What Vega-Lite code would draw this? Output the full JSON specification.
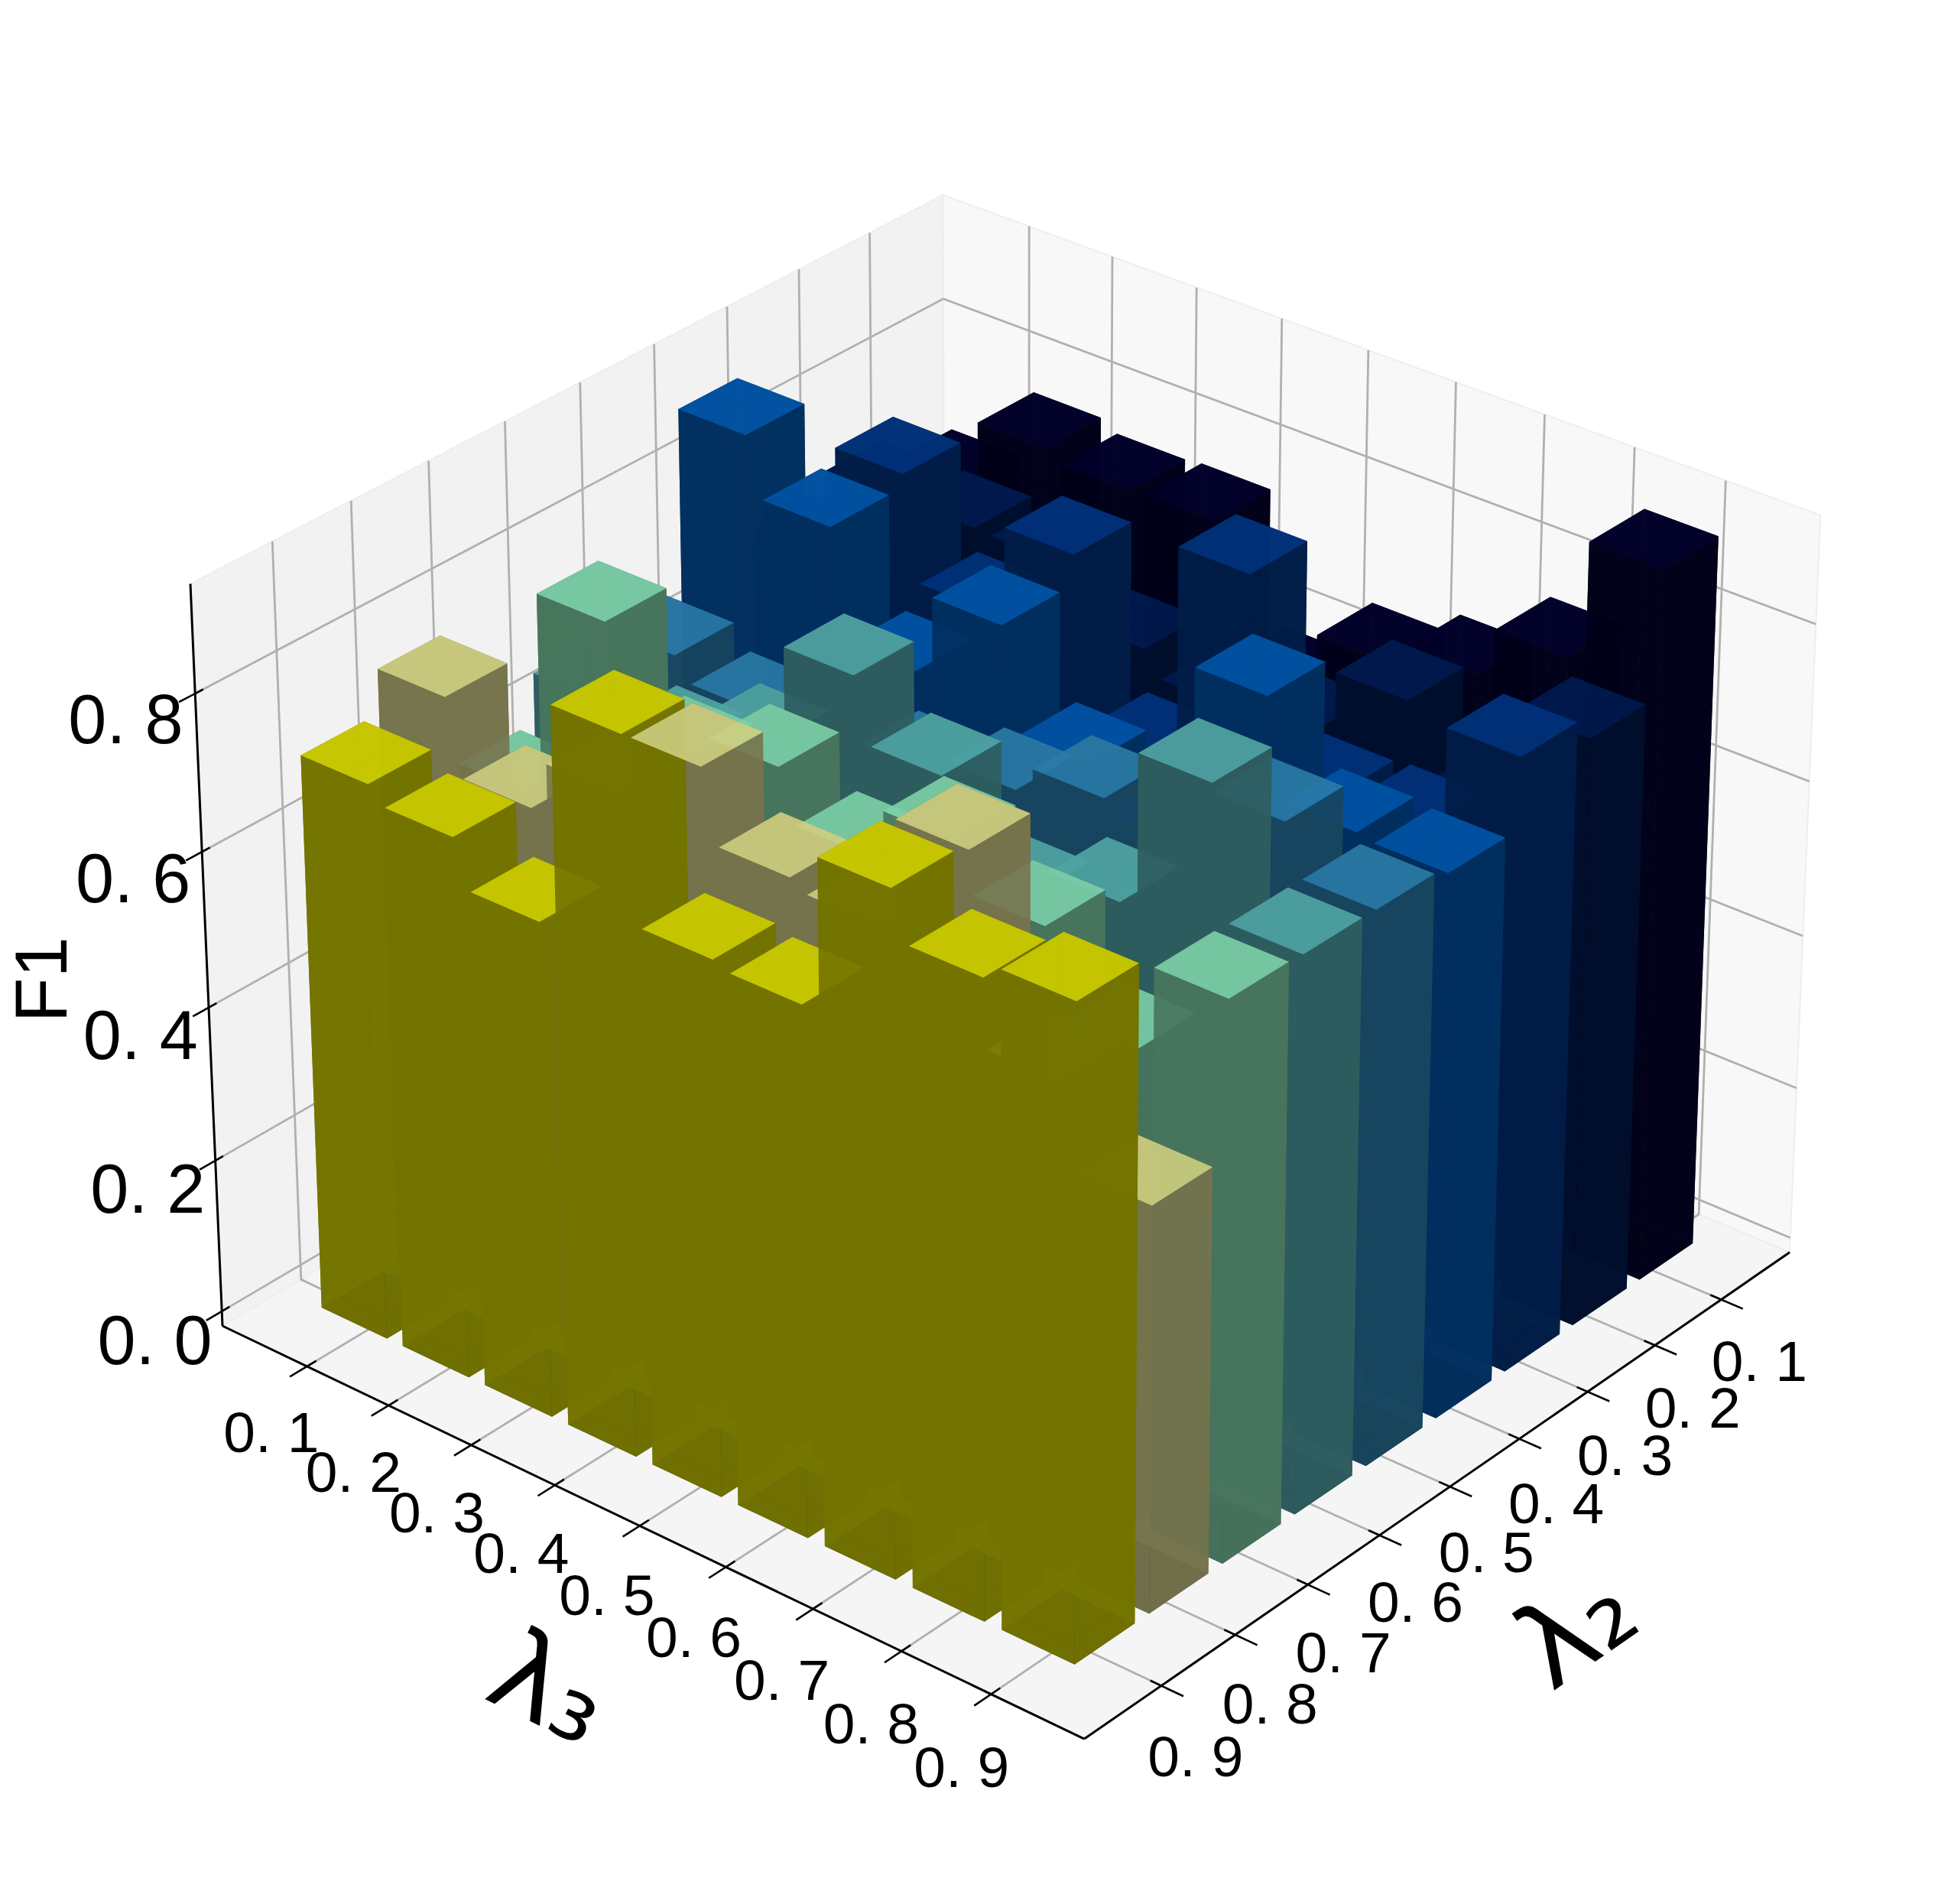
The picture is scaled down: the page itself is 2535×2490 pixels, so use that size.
{"$schema":"https://vega.github.io/schema/vega-lite/v6.json","width":2535,"height":2490,"padding":0,"autosize":{"type":"none"},"background":"white","config":{"view":{"stroke":null}},"projection":{"type":"identity","scale":1,"translate":[0,0]},"resolve":{"scale":{"fill":"independent"}},
"layer":[
{"data":{"values":[{"pane":"left"},{"pane":"right"},{"pane":"floor"}]},
"transform":[
{"calculate":"datum.pane==='left'?[[1,0,0],[0,0,0],[0,0,1],[1,0,1]]:datum.pane==='right'?[[0,0,0],[0,1,0],[0,1,1],[0,0,1]]:[[0,0,0],[1,0,0],[1,1,0],[0,1,0]]","as":"vs"},
{"calculate":"[[(1237-966.6*datum.vs[0][0]+960.4*datum.vs[0][1]-48*datum.vs[0][2])/(1-0.07087*datum.vs[0][0]-0.06134*datum.vs[0][1]-0.036*datum.vs[0][2]),(1175+436.1*datum.vs[0][0]+362.3*datum.vs[0][1]-929.2*datum.vs[0][2])/(1-0.07087*datum.vs[0][0]-0.06134*datum.vs[0][1]-0.036*datum.vs[0][2])],[(1237-966.6*datum.vs[1][0]+960.4*datum.vs[1][1]-48*datum.vs[1][2])/(1-0.07087*datum.vs[1][0]-0.06134*datum.vs[1][1]-0.036*datum.vs[1][2]),(1175+436.1*datum.vs[1][0]+362.3*datum.vs[1][1]-929.2*datum.vs[1][2])/(1-0.07087*datum.vs[1][0]-0.06134*datum.vs[1][1]-0.036*datum.vs[1][2])],[(1237-966.6*datum.vs[2][0]+960.4*datum.vs[2][1]-48*datum.vs[2][2])/(1-0.07087*datum.vs[2][0]-0.06134*datum.vs[2][1]-0.036*datum.vs[2][2]),(1175+436.1*datum.vs[2][0]+362.3*datum.vs[2][1]-929.2*datum.vs[2][2])/(1-0.07087*datum.vs[2][0]-0.06134*datum.vs[2][1]-0.036*datum.vs[2][2])],[(1237-966.6*datum.vs[3][0]+960.4*datum.vs[3][1]-48*datum.vs[3][2])/(1-0.07087*datum.vs[3][0]-0.06134*datum.vs[3][1]-0.036*datum.vs[3][2]),(1175+436.1*datum.vs[3][0]+362.3*datum.vs[3][1]-929.2*datum.vs[3][2])/(1-0.07087*datum.vs[3][0]-0.06134*datum.vs[3][1]-0.036*datum.vs[3][2])]]","as":"ring"},
{"calculate":"{type:'Polygon',coordinates:[[datum.ring[0],datum.ring[1],datum.ring[2],datum.ring[3],datum.ring[0]]]}","as":"geom"}],
"mark":{"type":"geoshape","stroke":"#eeeeee","strokeWidth":2},
"encoding":{"shape":{"field":"geom","type":"geojson"},"fill":{"field":"pane","type":"nominal","legend":null,"scale":{"domain":["left","right","floor"],"range":["#f2f2f2","#f8f8f8","#f5f5f5"]}}}},
{"data":{"name":"guides","values":[{"kind":"z","v":0.0},{"kind":"z","v":0.2},{"kind":"z","v":0.4},{"kind":"z","v":0.6},{"kind":"z","v":0.8},{"kind":"l3","v":0.1},{"kind":"l3","v":0.2},{"kind":"l3","v":0.3},{"kind":"l3","v":0.4},{"kind":"l3","v":0.5},{"kind":"l3","v":0.6},{"kind":"l3","v":0.7},{"kind":"l3","v":0.8},{"kind":"l3","v":0.9},{"kind":"l2","v":0.1},{"kind":"l2","v":0.2},{"kind":"l2","v":0.3},{"kind":"l2","v":0.4},{"kind":"l2","v":0.5},{"kind":"l2","v":0.6},{"kind":"l2","v":0.7},{"kind":"l2","v":0.8},{"kind":"l2","v":0.9}]},
"transform":[
{"calculate":"datum.kind==='z'?0.0205+1.0456*datum.v:0.9925*datum.v+0.005","as":"m"},
{"calculate":"datum.kind==='z'?[1,0,datum.m]:datum.kind==='l3'?[1,datum.m,0]:[datum.m,1,0]","as":"v1"},
{"calculate":"datum.kind==='z'?[0,0,datum.m]:datum.kind==='l3'?[0,datum.m,0]:[datum.m,0,0]","as":"v2"},
{"calculate":"datum.kind==='z'?[0,1,datum.m]:datum.kind==='l3'?[0,datum.m,1]:[datum.m,0,1]","as":"v3"},
{"calculate":"[(1237-966.6*datum.v1[0]+960.4*datum.v1[1]-48*datum.v1[2])/(1-0.07087*datum.v1[0]-0.06134*datum.v1[1]-0.036*datum.v1[2]),(1175+436.1*datum.v1[0]+362.3*datum.v1[1]-929.2*datum.v1[2])/(1-0.07087*datum.v1[0]-0.06134*datum.v1[1]-0.036*datum.v1[2])]","as":"p1"},
{"calculate":"[(1237-966.6*datum.v2[0]+960.4*datum.v2[1]-48*datum.v2[2])/(1-0.07087*datum.v2[0]-0.06134*datum.v2[1]-0.036*datum.v2[2]),(1175+436.1*datum.v2[0]+362.3*datum.v2[1]-929.2*datum.v2[2])/(1-0.07087*datum.v2[0]-0.06134*datum.v2[1]-0.036*datum.v2[2])]","as":"p2"},
{"calculate":"[(1237-966.6*datum.v3[0]+960.4*datum.v3[1]-48*datum.v3[2])/(1-0.07087*datum.v3[0]-0.06134*datum.v3[1]-0.036*datum.v3[2]),(1175+436.1*datum.v3[0]+362.3*datum.v3[1]-929.2*datum.v3[2])/(1-0.07087*datum.v3[0]-0.06134*datum.v3[1]-0.036*datum.v3[2])]","as":"p3"},
{"calculate":"{type:'LineString',coordinates:[datum.p1,datum.p2,datum.p3]}","as":"geom"}],
"mark":{"type":"geoshape","filled":false,"stroke":"#b0b0b0","strokeWidth":2.8,"fill":null},
"encoding":{"shape":{"field":"geom","type":"geojson"}}},
{"data":{"values":[{"edge":"zaxis"},{"edge":"l3axis"},{"edge":"l2axis"}]},
"transform":[
{"calculate":"datum.edge==='zaxis'?[1,0,1]:datum.edge==='l3axis'?[1,0,0]:[1,1,0]","as":"v1"},
{"calculate":"datum.edge==='zaxis'?[1,0,0]:datum.edge==='l3axis'?[1,1,0]:[0,1,0]","as":"v2"},
{"calculate":"[(1237-966.6*datum.v1[0]+960.4*datum.v1[1]-48*datum.v1[2])/(1-0.07087*datum.v1[0]-0.06134*datum.v1[1]-0.036*datum.v1[2]),(1175+436.1*datum.v1[0]+362.3*datum.v1[1]-929.2*datum.v1[2])/(1-0.07087*datum.v1[0]-0.06134*datum.v1[1]-0.036*datum.v1[2])]","as":"p1"},
{"calculate":"[(1237-966.6*datum.v2[0]+960.4*datum.v2[1]-48*datum.v2[2])/(1-0.07087*datum.v2[0]-0.06134*datum.v2[1]-0.036*datum.v2[2]),(1175+436.1*datum.v2[0]+362.3*datum.v2[1]-929.2*datum.v2[2])/(1-0.07087*datum.v2[0]-0.06134*datum.v2[1]-0.036*datum.v2[2])]","as":"p2"},
{"calculate":"{type:'LineString',coordinates:[datum.p1,datum.p2]}","as":"geom"}],
"mark":{"type":"geoshape","filled":false,"stroke":"#000000","strokeWidth":3,"fill":null},
"encoding":{"shape":{"field":"geom","type":"geojson"}}},
{"data":{"name":"guides"},
"transform":[
{"calculate":"datum.kind==='z'?0.0205+1.0456*datum.v:0.9925*datum.v+0.005","as":"m"},
{"calculate":"datum.kind==='z'?[0.99,0,datum.m]:datum.kind==='l3'?[0.988,datum.m,0]:[datum.m,0.988,0]","as":"v1"},
{"calculate":"datum.kind==='z'?[1.02,0,datum.m]:datum.kind==='l3'?[1.022,datum.m,0]:[datum.m,1.024,0]","as":"v2"},
{"calculate":"[(1237-966.6*datum.v1[0]+960.4*datum.v1[1]-48*datum.v1[2])/(1-0.07087*datum.v1[0]-0.06134*datum.v1[1]-0.036*datum.v1[2]),(1175+436.1*datum.v1[0]+362.3*datum.v1[1]-929.2*datum.v1[2])/(1-0.07087*datum.v1[0]-0.06134*datum.v1[1]-0.036*datum.v1[2])]","as":"p1"},
{"calculate":"[(1237-966.6*datum.v2[0]+960.4*datum.v2[1]-48*datum.v2[2])/(1-0.07087*datum.v2[0]-0.06134*datum.v2[1]-0.036*datum.v2[2]),(1175+436.1*datum.v2[0]+362.3*datum.v2[1]-929.2*datum.v2[2])/(1-0.07087*datum.v2[0]-0.06134*datum.v2[1]-0.036*datum.v2[2])]","as":"p2"},
{"calculate":"{type:'LineString',coordinates:[datum.p1,datum.p2]}","as":"geom"}],
"mark":{"type":"geoshape","filled":false,"stroke":"#000000","strokeWidth":2.6,"fill":null},
"encoding":{"shape":{"field":"geom","type":"geojson"}}},
{"data":{"values":[
{"l2":0.1,"l3":0.1,"f1":0.685},{"l2":0.1,"l3":0.2,"f1":0.775},{"l2":0.1,"l3":0.3,"f1":0.762},{"l2":0.1,"l3":0.4,"f1":0.765},{"l2":0.1,"l3":0.5,"f1":0.594},{"l2":0.1,"l3":0.6,"f1":0.669},{"l2":0.1,"l3":0.7,"f1":0.697},{"l2":0.1,"l3":0.8,"f1":0.763},{"l2":0.1,"l3":0.9,"f1":0.917},
{"l2":0.2,"l3":0.1,"f1":0.72},{"l2":0.2,"l3":0.2,"f1":0.722},{"l2":0.2,"l3":0.3,"f1":0.72},{"l2":0.2,"l3":0.4,"f1":0.651},{"l2":0.2,"l3":0.5,"f1":0.62},{"l2":0.2,"l3":0.6,"f1":0.636},{"l2":0.2,"l3":0.7,"f1":0.717},{"l2":0.2,"l3":0.8,"f1":0.62},{"l2":0.2,"l3":0.9,"f1":0.758},
{"l2":0.3,"l3":0.1,"f1":0.7},{"l2":0.3,"l3":0.2,"f1":0.842},{"l2":0.3,"l3":0.3,"f1":0.709},{"l2":0.3,"l3":0.4,"f1":0.824},{"l2":0.3,"l3":0.5,"f1":0.614},{"l2":0.3,"l3":0.6,"f1":0.885},{"l2":0.3,"l3":0.7,"f1":0.651},{"l2":0.3,"l3":0.8,"f1":0.655},{"l2":0.3,"l3":0.9,"f1":0.789},
{"l2":0.4,"l3":0.1,"f1":0.9},{"l2":0.4,"l3":0.2,"f1":0.825},{"l2":0.4,"l3":0.3,"f1":0.684},{"l2":0.4,"l3":0.4,"f1":0.786},{"l2":0.4,"l3":0.5,"f1":0.654},{"l2":0.4,"l3":0.6,"f1":0.6},{"l2":0.4,"l3":0.7,"f1":0.829},{"l2":0.4,"l3":0.8,"f1":0.704},{"l2":0.4,"l3":0.9,"f1":0.699},
{"l2":0.5,"l3":0.1,"f1":0.669},{"l2":0.5,"l3":0.2,"f1":0.64},{"l2":0.5,"l3":0.3,"f1":0.55},{"l2":0.5,"l3":0.4,"f1":0.652},{"l2":0.5,"l3":0.5,"f1":0.675},{"l2":0.5,"l3":0.6,"f1":0.71},{"l2":0.5,"l3":0.7,"f1":0.6},{"l2":0.5,"l3":0.8,"f1":0.772},{"l2":0.5,"l3":0.9,"f1":0.709},
{"l2":0.6,"l3":0.1,"f1":0.663},{"l2":0.6,"l3":0.2,"f1":0.649},{"l2":0.6,"l3":0.3,"f1":0.696},{"l2":0.6,"l3":0.4,"f1":0.828},{"l2":0.6,"l3":0.5,"f1":0.747},{"l2":0.6,"l3":0.6,"f1":0.641},{"l2":0.6,"l3":0.7,"f1":0.681},{"l2":0.6,"l3":0.8,"f1":0.874},{"l2":0.6,"l3":0.9,"f1":0.71},
{"l2":0.7,"l3":0.1,"f1":0.6},{"l2":0.7,"l3":0.2,"f1":0.86},{"l2":0.7,"l3":0.3,"f1":0.733},{"l2":0.7,"l3":0.4,"f1":0.767},{"l2":0.7,"l3":0.5,"f1":0.702},{"l2":0.7,"l3":0.6,"f1":0.766},{"l2":0.7,"l3":0.7,"f1":0.707},{"l2":0.7,"l3":0.8,"f1":0.601},{"l2":0.7,"l3":0.9,"f1":0.712},
{"l2":0.8,"l3":0.1,"f1":0.774},{"l2":0.8,"l3":0.2,"f1":0.679},{"l2":0.8,"l3":0.3,"f1":0.743},{"l2":0.8,"l3":0.4,"f1":0.821},{"l2":0.8,"l3":0.5,"f1":0.73},{"l2":0.8,"l3":0.6,"f1":0.717},{"l2":0.8,"l3":0.7,"f1":0.856},{"l2":0.8,"l3":0.8,"f1":0.62},{"l2":0.8,"l3":0.9,"f1":0.516},
{"l2":0.9,"l3":0.1,"f1":0.718},{"l2":0.9,"l3":0.2,"f1":0.697},{"l2":0.9,"l3":0.3,"f1":0.637},{"l2":0.9,"l3":0.4,"f1":0.915},{"l2":0.9,"l3":0.5,"f1":0.684},{"l2":0.9,"l3":0.6,"f1":0.676},{"l2":0.9,"l3":0.7,"f1":0.865},{"l2":0.9,"l3":0.8,"f1":0.804},{"l2":0.9,"l3":0.9,"f1":0.823}
]},
"transform":[
{"calculate":"0.9925*datum.l2+0.005-0.04","as":"a0"},{"calculate":"datum.a0+0.08","as":"a1"},
{"calculate":"0.9925*datum.l3+0.005-0.04","as":"b0"},{"calculate":"datum.b0+0.08","as":"b1"},
{"calculate":"0.0205","as":"c0"},{"calculate":"0.0205+1.0456*datum.f1","as":"c1"},
{"calculate":"[(1237-966.6*datum.a0+960.4*datum.b0-48*datum.c0)/(1-0.07087*datum.a0-0.06134*datum.b0-0.036*datum.c0),(1175+436.1*datum.a0+362.3*datum.b0-929.2*datum.c0)/(1-0.07087*datum.a0-0.06134*datum.b0-0.036*datum.c0)]","as":"p000"},
{"calculate":"[(1237-966.6*datum.a0+960.4*datum.b0-48*datum.c1)/(1-0.07087*datum.a0-0.06134*datum.b0-0.036*datum.c1),(1175+436.1*datum.a0+362.3*datum.b0-929.2*datum.c1)/(1-0.07087*datum.a0-0.06134*datum.b0-0.036*datum.c1)]","as":"p001"},
{"calculate":"[(1237-966.6*datum.a0+960.4*datum.b1-48*datum.c0)/(1-0.07087*datum.a0-0.06134*datum.b1-0.036*datum.c0),(1175+436.1*datum.a0+362.3*datum.b1-929.2*datum.c0)/(1-0.07087*datum.a0-0.06134*datum.b1-0.036*datum.c0)]","as":"p010"},
{"calculate":"[(1237-966.6*datum.a0+960.4*datum.b1-48*datum.c1)/(1-0.07087*datum.a0-0.06134*datum.b1-0.036*datum.c1),(1175+436.1*datum.a0+362.3*datum.b1-929.2*datum.c1)/(1-0.07087*datum.a0-0.06134*datum.b1-0.036*datum.c1)]","as":"p011"},
{"calculate":"[(1237-966.6*datum.a1+960.4*datum.b0-48*datum.c0)/(1-0.07087*datum.a1-0.06134*datum.b0-0.036*datum.c0),(1175+436.1*datum.a1+362.3*datum.b0-929.2*datum.c0)/(1-0.07087*datum.a1-0.06134*datum.b0-0.036*datum.c0)]","as":"p100"},
{"calculate":"[(1237-966.6*datum.a1+960.4*datum.b0-48*datum.c1)/(1-0.07087*datum.a1-0.06134*datum.b0-0.036*datum.c1),(1175+436.1*datum.a1+362.3*datum.b0-929.2*datum.c1)/(1-0.07087*datum.a1-0.06134*datum.b0-0.036*datum.c1)]","as":"p101"},
{"calculate":"[(1237-966.6*datum.a1+960.4*datum.b1-48*datum.c0)/(1-0.07087*datum.a1-0.06134*datum.b1-0.036*datum.c0),(1175+436.1*datum.a1+362.3*datum.b1-929.2*datum.c0)/(1-0.07087*datum.a1-0.06134*datum.b1-0.036*datum.c0)]","as":"p110"},
{"calculate":"[(1237-966.6*datum.a1+960.4*datum.b1-48*datum.c1)/(1-0.07087*datum.a1-0.06134*datum.b1-0.036*datum.c1),(1175+436.1*datum.a1+362.3*datum.b1-929.2*datum.c1)/(1-0.07087*datum.a1-0.06134*datum.b1-0.036*datum.c1)]","as":"p111"},
{"calculate":"[{type:'Polygon',coordinates:[[datum.p000,datum.p010,datum.p110,datum.p100,datum.p000]]},{type:'Polygon',coordinates:[[datum.p000,datum.p010,datum.p011,datum.p001,datum.p000]]},{type:'Polygon',coordinates:[[datum.p000,datum.p100,datum.p101,datum.p001,datum.p000]]},{type:'Polygon',coordinates:[[datum.p100,datum.p110,datum.p111,datum.p101,datum.p100]]},{type:'Polygon',coordinates:[[datum.p010,datum.p110,datum.p111,datum.p011,datum.p010]]},{type:'Polygon',coordinates:[[datum.p001,datum.p011,datum.p111,datum.p101,datum.p001]]}]","as":"geoms"},
{"calculate":"['bottom','side','side','side','side','top']","as":"tones"},
{"calculate":"(datum.a0+datum.a1)/2","as":"am"},{"calculate":"(datum.b0+datum.b1)/2","as":"bm"},{"calculate":"(datum.c0+datum.c1)/2","as":"cm"},
{"calculate":"[1-0.07087*datum.am-0.06134*datum.bm-0.0253*datum.c0,1-0.07087*datum.a0-0.06134*datum.bm-0.0253*datum.cm,1-0.07087*datum.am-0.06134*datum.b0-0.0253*datum.cm,1-0.07087*datum.a1-0.06134*datum.bm-0.0253*datum.cm,1-0.07087*datum.am-0.06134*datum.b1-0.0253*datum.cm,1-0.07087*datum.am-0.06134*datum.bm-0.0253*datum.c1]","as":"depths"},
{"flatten":["geoms","tones","depths"],"as":["geom","tone","depth"]},
{"calculate":"datum.l2+datum.tone","as":"key"}],
"mark":{"type":"geoshape","opacity":0.9,"strokeWidth":0},
"encoding":{"shape":{"field":"geom","type":"geojson"},"order":{"field":"depth","type":"quantitative","sort":"descending"},"fill":{"field":"key","type":"nominal","legend":null,"scale":{
"domain":["0.1side","0.1top","0.1bottom","0.2side","0.2top","0.2bottom","0.3side","0.3top","0.3bottom","0.4side","0.4top","0.4bottom","0.5side","0.5top","0.5bottom","0.6side","0.6top","0.6bottom","0.7side","0.7top","0.7bottom","0.8side","0.8top","0.8bottom","0.9side","0.9top","0.9bottom"],
"range":["#000018","#00002a","#000010","#000e2e","#00194f","#000a20","#001d47","#00327c","#001030","#002f5e","#0054a6","#001a38","#17455e","#2a7aa7","#0a2838","#2d5c5e","#4fa3a3","#143638","#47745c","#7bcea8","#204034","#76734c","#cdce7f","#38361c","#737300","#cdcd00","#3a3a00"]}}}},
{"data":{"values":[{"v":0.0,"label":"0. 0"},{"v":0.2,"label":"0. 2"},{"v":0.4,"label":"0. 4"},{"v":0.6,"label":"0. 6"},{"v":0.8,"label":"0. 8"}]},
"transform":[{"calculate":"0.0305+1.0456*datum.v","as":"m"},
{"calculate":"(1237-966.6*1.085-48*datum.m)/(1-0.07087*1.085-0.036*datum.m)","as":"px"},
{"calculate":"(1175+436.1*1.085-929.2*datum.m)/(1-0.07087*1.085-0.036*datum.m)","as":"py"}],
"mark":{"type":"text","font":"Liberation Sans","fontSize":90,"align":"center","baseline":"middle"},
"encoding":{"longitude":{"field":"px","type":"quantitative"},"latitude":{"field":"py","type":"quantitative"},"text":{"field":"label"}}},
{"data":{"values":[{"axis":"l3","v":0.1,"label":"0. 1"},{"axis":"l3","v":0.2,"label":"0. 2"},{"axis":"l3","v":0.3,"label":"0. 3"},{"axis":"l3","v":0.4,"label":"0. 4"},{"axis":"l3","v":0.5,"label":"0. 5"},{"axis":"l3","v":0.6,"label":"0. 6"},{"axis":"l3","v":0.7,"label":"0. 7"},{"axis":"l3","v":0.8,"label":"0. 8"},{"axis":"l3","v":0.9,"label":"0. 9"},{"axis":"l2","v":0.1,"label":"0. 1"},{"axis":"l2","v":0.2,"label":"0. 2"},{"axis":"l2","v":0.3,"label":"0. 3"},{"axis":"l2","v":0.4,"label":"0. 4"},{"axis":"l2","v":0.5,"label":"0. 5"},{"axis":"l2","v":0.6,"label":"0. 6"},{"axis":"l2","v":0.7,"label":"0. 7"},{"axis":"l2","v":0.8,"label":"0. 8"},{"axis":"l2","v":0.9,"label":"0. 9"}]},
"transform":[{"calculate":"0.9925*datum.v+0.005","as":"m"},
{"calculate":"datum.axis==='l3'?1.10:datum.m+0.064","as":"A"},
{"calculate":"datum.axis==='l3'?datum.m+0.052:1.089","as":"B"},
{"calculate":"(1237-966.6*datum.A+960.4*datum.B)/(1-0.07087*datum.A-0.06134*datum.B)","as":"px"},
{"calculate":"(1175+436.1*datum.A+362.3*datum.B)/(1-0.07087*datum.A-0.06134*datum.B)","as":"py"}],
"mark":{"type":"text","font":"Liberation Sans","fontSize":75,"align":"center","baseline":"middle"},
"encoding":{"longitude":{"field":"px","type":"quantitative"},"latitude":{"field":"py","type":"quantitative"},"text":{"field":"label"}}},
{"data":{"values":[{"label":"F1"}]},
"transform":[{"calculate":"(1237-966.6*1.082-960.4*0.121-48*0.465)/(1-0.07087*1.082+0.06134*0.121-0.036*0.465)","as":"px"},{"calculate":"(1175+436.1*1.082-362.3*0.121-929.2*0.465)/(1-0.07087*1.082+0.06134*0.121-0.036*0.465)","as":"py"}],
"mark":{"type":"text","font":"Liberation Sans","fontSize":96,"angle":270,"align":"center","baseline":"middle"},
"encoding":{"longitude":{"field":"px","type":"quantitative"},"latitude":{"field":"py","type":"quantitative"},"text":{"field":"label"}}},
{"data":{"values":[{"label":"λ₃"}]},
"transform":[{"calculate":"(1237-966.6*1.237+960.4*0.61)/(1-0.07087*1.237-0.06134*0.61)","as":"px"},{"calculate":"(1175+436.1*1.237+362.3*0.61)/(1-0.07087*1.237-0.06134*0.61)","as":"py"}],
"mark":{"type":"text","font":"DejaVu Sans","fontSize":150,"angle":26,"align":"center","baseline":"middle"},
"encoding":{"longitude":{"field":"px","type":"quantitative"},"latitude":{"field":"py","type":"quantitative"},"text":{"field":"label"}}},
{"data":{"values":[{"label":"λ₂"}]},
"transform":[{"calculate":"(1237-966.6*0.608+960.4*1.22)/(1-0.07087*0.608-0.06134*1.22)","as":"px"},{"calculate":"(1175+436.1*0.608+362.3*1.22)/(1-0.07087*0.608-0.06134*1.22)","as":"py"}],
"mark":{"type":"text","font":"DejaVu Sans","fontSize":150,"angle":-35,"align":"center","baseline":"middle"},
"encoding":{"longitude":{"field":"px","type":"quantitative"},"latitude":{"field":"py","type":"quantitative"},"text":{"field":"label"}}}
]}
